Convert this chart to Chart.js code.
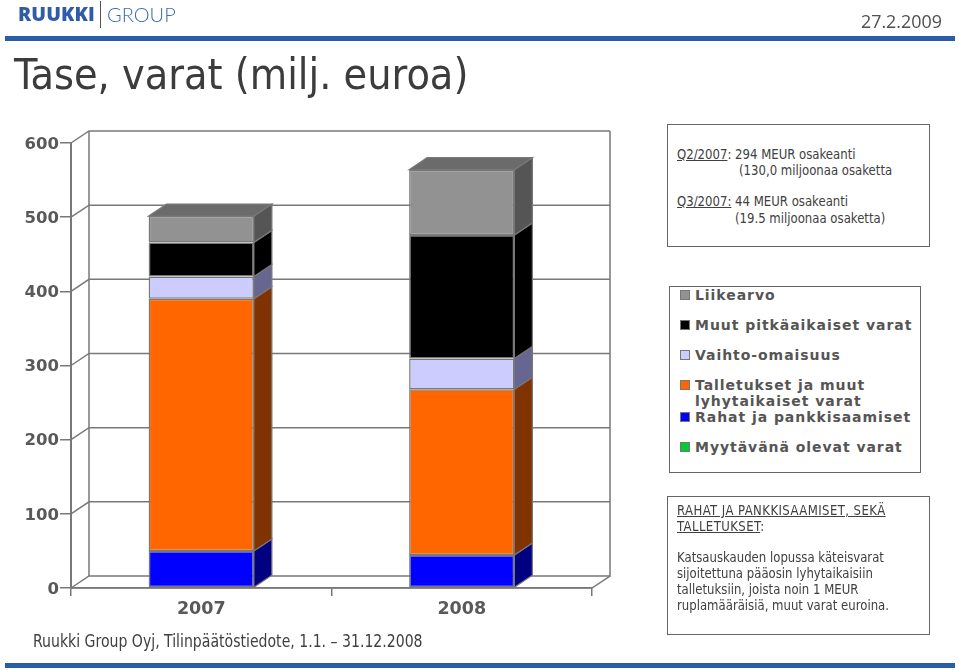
<!DOCTYPE html>
<html>
<head>
<meta charset="utf-8">
<script src="https://cdn.jsdelivr.net/npm/chart.js@4/dist/chart.umd.min.js"></script>
<style>
    html, body { margin: 0; padding: 0; background: #fff; }
    #page { position: relative; width: 959px; height: 670px; overflow: hidden; font-family: "DejaVu Sans Condensed", "DejaVu Sans", sans-serif; color: #404040; }
    #page canvas { position: absolute; left: 0; top: 0; }
    .abs { position: absolute; white-space: nowrap; }
    .rule { position: absolute; left: 5px; right: 4px; height: 5px; background: #2b5ca8; }
    .box { position: absolute; box-sizing: border-box; border: 1.5px solid #666; background: #fff; }
    .note { font-size: 14px; line-height: 16px; color: #404040; transform: scaleX(0.93); transform-origin: left; }
    #legend { font-family: "DejaVu Sans", sans-serif; font-weight: bold; font-size: 14px; letter-spacing: 0.95px; line-height: 16px; color: #555; }
    #legend .row { position: absolute; left: 25px; white-space: pre-line; }
    #legend .swatch { position: absolute; left: -15px; top: 3px; width: 8px; height: 8px; border: 1px solid #777; }
</style>
</head>
<body>
<div id="page">
    <canvas id="chart" width="959" height="670"></canvas>

    <div class="abs" style="left:18px;top:0px;font-family:'Open Sans';font-weight:800;font-size:19.5px;line-height:28px;letter-spacing:0.1px;color:#2f5ba8">RUUKKI</div>
    <div class="abs" style="left:100px;top:1px;width:1px;height:27px;background:#555"></div>
    <div class="abs" style="left:107px;top:0px;font-family:'Lato';font-weight:300;font-size:20px;line-height:28px;color:#3f6bb0">GROUP</div>
    <div class="abs" style="left:861px;top:8px;font-family:'Open Sans';font-size:19px;line-height:26px;color:#505050;transform:scaleX(0.94);transform-origin:left">27.2.2009</div>
    <div class="rule" style="top:36px"></div>
    <div class="rule" style="top:663px"></div>
    <div class="abs" style="left:14px;top:47px;font-size:42.7px;line-height:54px;color:#3c3c3c">Tase, varat (milj. euroa)</div>
    <div class="abs" style="left:33px;top:630px;font-size:17px;line-height:22px;color:#404040;transform:scaleX(0.92);transform-origin:left">Ruukki Group Oyj, Tilinpäätöstiedote, 1.1. – 31.12.2008</div>

    <div class="box" style="left:667px;top:124px;width:263px;height:123px"></div>
    <div class="abs note" style="left:677px;top:146px"><u>Q2/2007</u>: 294 MEUR osakeanti</div>
    <div class="abs note" style="left:739px;top:162px">(130,0 miljoonaa osaketta</div>
    <div class="abs note" style="left:677px;top:193px"><u>Q3/2007:</u> 44 MEUR osakeanti</div>
    <div class="abs note" style="left:735px;top:210px">(19.5 miljoonaa osaketta)</div>

    <div class="box" id="legend" style="left:669px;top:286px;width:252px;height:187px"></div>

    <div class="box" style="left:667px;top:496px;width:263px;height:139px"></div>
    <div class="abs note" style="left:677px;top:502px;letter-spacing:0.45px"><u>RAHAT JA PANKKISAAMISET, SEKÄ</u></div>
    <div class="abs note" style="left:677px;top:518px;letter-spacing:0.45px"><u>TALLETUKSET</u>:</div>
    <div class="abs note" style="left:677px;top:549px">Katsauskauden lopussa käteisvarat</div>
    <div class="abs note" style="left:677px;top:565px">sijoitettuna pääosin lyhytaikaisiin</div>
    <div class="abs note" style="left:677px;top:581px">talletuksiin, joista noin 1 MEUR</div>
    <div class="abs note" style="left:677px;top:597px">ruplamääräisiä, muut varat euroina.</div>
</div>

<script>
// Tase, varat (milj. euroa)
const categories = ['2007', '2008'];
const yTicks = [0, 100, 200, 300, 400, 500, 600];

const seriesNames = [
    'Myytävänä olevat varat',
    'Rahat ja pankkisaamiset',
    'Talletukset ja muut\nlyhytaikaiset varat',
    'Vaihto-omaisuus',
    'Muut pitkäaikaiset varat',
    'Liikearvo'
];
const myytavana = [0, 0];
const rahat = [50, 44.5];
const talletukset = [340, 223.5];
const vaihto = [30, 41.5];
const muut = [46, 166.5];
const liikearvo = [35.5, 88];
const seriesValues = [myytavana, rahat, talletukset, vaihto, muut, liikearvo];

// front, side and top face colours, same order as the series
const frontColors = ['#00cc33', '#0000ff', '#ff6600', '#ccccff', '#000000', '#929292'];
const sideColors = ['#006619', '#000080', '#803300', '#666690', '#000000', '#555555'];
const topColors = ['#00a328', '#0000b0', '#b34700', '#9999c0', '#000000', '#6b6b6b'];
const legendTops = [0, 30, 60, 90, 122, 152];

const LINE = '#787878';
const DEPTH_X = 18;
const DEPTH_Y = 12;

function face(ctx, points, fill) {
    ctx.beginPath();
    points.forEach((p, i) => i ? ctx.lineTo(p[0], p[1]) : ctx.moveTo(p[0], p[1]));
    ctx.closePath();
    ctx.fillStyle = fill;
    ctx.fill();
    ctx.stroke();
}

// Chart.js has no 3D bars, so the walls and bar depth are added here
const depthPlugin = {
    id: 'depth',
    beforeDatasetsDraw(chart) {
        const { ctx, scales: { x, y } } = chart;
        const left = x.left, right = x.right;
        ctx.save();
        ctx.strokeStyle = LINE;
        ctx.lineWidth = 1.5;
        yTicks.forEach(v => {
            const py = y.getPixelForValue(v);
            ctx.beginPath();
            ctx.moveTo(left, py);
            ctx.lineTo(left + DEPTH_X, py - DEPTH_Y);
            ctx.lineTo(right + DEPTH_X, py - DEPTH_Y);
            ctx.stroke();
        });
        const top = y.getPixelForValue(600), bottom = y.getPixelForValue(0);
        ctx.beginPath();
        ctx.moveTo(left + DEPTH_X, top - DEPTH_Y);
        ctx.lineTo(left + DEPTH_X, bottom - DEPTH_Y);
        ctx.moveTo(right + DEPTH_X, top - DEPTH_Y);
        ctx.lineTo(right + DEPTH_X, bottom - DEPTH_Y);
        ctx.lineTo(right, bottom);
        ctx.lineTo(left, bottom);
        ctx.stroke();

        // side and top faces of the bars
        ctx.lineWidth = 1.25;
        seriesValues.forEach((values, s) => {
            chart.getDatasetMeta(s).data.forEach((bar, i) => {
                if (!values[i]) return;
                const r = bar.x + bar.width / 2;
                const l = bar.x - bar.width / 2;
                face(ctx, [[r, bar.y], [r + DEPTH_X, bar.y - DEPTH_Y], [r + DEPTH_X, bar.base - DEPTH_Y], [r, bar.base]], sideColors[s]);
                if (s === seriesValues.length - 1) {
                    face(ctx, [[l, bar.y], [l + DEPTH_X, bar.y - DEPTH_Y], [r + DEPTH_X, bar.y - DEPTH_Y], [r, bar.y]], topColors[s]);
                }
            });
        });
        ctx.restore();
    }
};

new Chart(document.getElementById('chart'), {
    type: 'bar',
    data: {
        labels: categories,
        datasets: seriesNames.map((name, s) => ({
            label: name,
            data: seriesValues[s],
            backgroundColor: frontColors[s],
            borderColor: LINE,
            borderWidth: values => (seriesValues[s][values.dataIndex] ? 1.5 : 0),
            borderSkipped: false,
            categoryPercentage: 0.404,
            barPercentage: 1
        }))
    },
    options: {
        responsive: false,
        animation: false,
        layout: { padding: { left: 0, top: 143, right: 367, bottom: 0 } },
        plugins: { legend: { display: false }, tooltip: { enabled: false } },
        scales: {
            x: {
                stacked: true,
                afterFit: s => { s.height = 82; },
                grid: { drawOnChartArea: false, drawTicks: true, tickLength: 8, color: LINE, lineWidth: 1.5 },
                border: { color: LINE, width: 1.5 },
                ticks: { padding: 3, color: '#595959', font: { family: 'DejaVu Sans', size: 17.5, weight: 'bold' } }
            },
            y: {
                stacked: true,
                min: 0,
                max: 600,
                afterFit: s => { s.width = 71; },
                afterBuildTicks: s => { s.ticks = yTicks.map(v => ({ value: v })); },
                grid: { drawOnChartArea: false, drawTicks: true, tickLength: 11, color: LINE, lineWidth: 1.5 },
                border: { color: LINE, width: 2 },
                ticks: { padding: 1, labelOffset: 1.5, color: '#595959', font: { family: 'DejaVu Sans', size: 16.5, weight: 'bold' } }
            }
        }
    },
    plugins: [depthPlugin]
});

// legend list, top series first
const legend = document.getElementById('legend');
seriesNames.slice().reverse().forEach((name, i) => {
    const row = document.createElement('div');
    row.className = 'row';
    row.style.top = legendTops[i] + 'px';
    row.textContent = name;
    const swatch = document.createElement('span');
    swatch.className = 'swatch';
    swatch.style.background = frontColors[seriesNames.length - 1 - i];
    row.appendChild(swatch);
    legend.appendChild(row);
});
</script>
</body>
</html>
